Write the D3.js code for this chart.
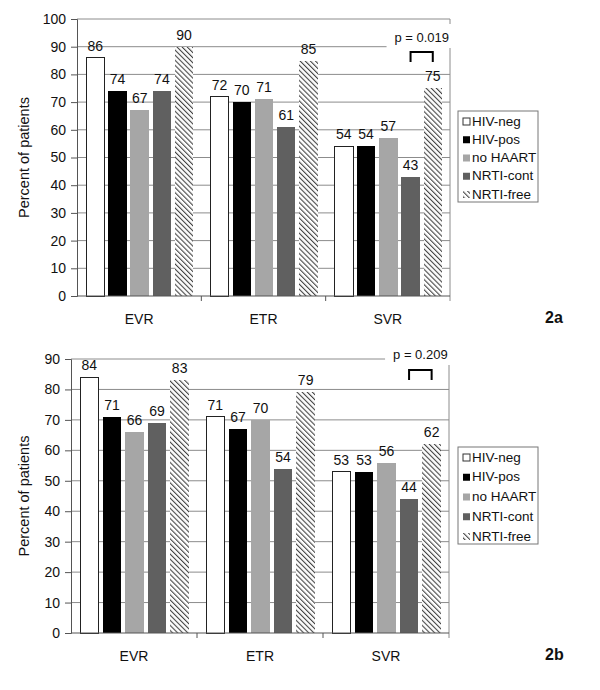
<!DOCTYPE html>
<html>
<head>
<meta charset="utf-8">
<script src="https://cdn.jsdelivr.net/npm/d3@7"></script>
<style>
html,body{margin:0;padding:0;background:#fff;}
svg{display:block;}
text{font-family:"Liberation Sans",Arial,sans-serif;fill:#111;}
</style>
</head>
<body>
<svg id="chart" width="600" height="690"></svg>
<script>
// ---- data ----
const categories = ["EVR", "ETR", "SVR"];
const seriesNames = ["HIV-neg", "HIV-pos", "no HAART", "NRTI-cont", "NRTI-free"];

// Panel 2a
const hivNegA   = [86, 72, 54];
const hivPosA   = [74, 70, 54];
const noHaartA  = [67, 71, 57];
const nrtiContA = [74, 61, 43];
const nrtiFreeA = [90, 85, 75];
const ticksA = [0, 10, 20, 30, 40, 50, 60, 70, 80, 90, 100];
const pTextA = "p = 0.019";

// Panel 2b
const hivNegB   = [84, 71, 53];
const hivPosB   = [71, 67, 53];
const noHaartB  = [66, 70, 56];
const nrtiContB = [69, 54, 44];
const nrtiFreeB = [83, 79, 62];
const ticksB = [0, 10, 20, 30, 40, 50, 60, 70, 80, 90];
const pTextB = "p = 0.209";

const yLabel = "Percent of patients";

// ---- drawing ----
const svg = d3.select("#chart");
const defs = svg.append("defs");
const pat = defs.append("pattern")
  .attr("id", "hatch").attr("patternUnits", "userSpaceOnUse")
  .attr("width", 3.6).attr("height", 3.6)
  .attr("patternTransform", "rotate(-45)");
pat.append("rect").attr("width", 3.6).attr("height", 3.6).attr("fill", "#fff");
pat.append("line").attr("x1", 0).attr("y1", 0).attr("x2", 0).attr("y2", 3.6)
  .attr("stroke", "#444").attr("stroke-width", 2.2);

const fills = ["#ffffff", "#000000", "#a6a6a6", "#606060", "url(#hatch)"];
const strokes = ["#222", "none", "none", "none", "none"];

function drawPanel(cfg) {
  const { left, right, top, bottom, data, ticks, maxV, pText, panelLabel, legendTop, legendH } = cfg;
  const w = right - left, h = bottom - top;
  const g = svg.append("g").attr("transform", `translate(${left},${top})`);

  const y = d3.scaleLinear().domain([0, maxV]).range([h, 0]);
  const x0 = d3.scaleBand().domain(categories).range([0, w]).padding(0);
  const x1 = d3.scaleBand().domain(seriesNames)
    .range([9, x0.bandwidth() - 8]).paddingInner(0.17).paddingOuter(0);

  // gridlines
  g.append("g").selectAll("line").data(ticks.filter(t => t > 0)).join("line")
    .attr("x1", 0).attr("x2", w)
    .attr("y1", d => y(d)).attr("y2", d => y(d))
    .attr("stroke", "#8c8c8c").attr("stroke-width", 1);

  // right border
  g.append("line").attr("x1", w).attr("x2", w).attr("y1", 0).attr("y2", h + 5)
    .attr("stroke", "#8c8c8c");

  // bars
  const groups = g.append("g").selectAll("g").data(categories).join("g")
    .attr("transform", d => `translate(${x0(d)},0)`);
  groups.each(function(cat, ci) {
    const gg = d3.select(this);
    seriesNames.forEach((s, si) => {
      const v = data[si][ci];
      gg.append("rect")
        .attr("x", x1(s)).attr("y", y(v))
        .attr("width", x1.bandwidth()).attr("height", h - y(v))
        .attr("fill", fills[si])
        .attr("stroke", strokes[si]).attr("stroke-width", 1)
        .attr("shape-rendering", "crispEdges");
      gg.append("text")
        .attr("x", x1(s) + x1.bandwidth() / 2).attr("y", y(v) - 7)
        .attr("text-anchor", "middle").attr("font-size", 14)
        .text(v);
    });
  });

  // y axis
  const yAxis = g.append("g").call(d3.axisLeft(y).tickValues(ticks).tickSize(6).tickPadding(5));
  yAxis.select(".domain").attr("stroke", "#555");
  yAxis.selectAll(".tick line").attr("stroke", "#555");
  yAxis.selectAll(".tick text").attr("font-size", 14).attr("font-family", "Liberation Sans, Arial, sans-serif").attr("fill", "#111");

  // x axis
  g.append("line").attr("x1", 0).attr("x2", w).attr("y1", h).attr("y2", h).attr("stroke", "#555");
  g.append("g").selectAll("line").data(categories.slice(1)).join("line")
    .attr("x1", d => x0(d)).attr("x2", d => x0(d)).attr("y1", h).attr("y2", h + 5)
    .attr("stroke", "#555");
  g.append("g").selectAll("text").data(categories).join("text")
    .attr("x", d => x0(d) + x0.bandwidth() / 2).attr("y", h + 28)
    .attr("text-anchor", "middle").attr("font-size", 14).text(d => d);

  // y label
  g.append("text")
    .attr("transform", `translate(${25 - left},${h / 2}) rotate(-90)`)
    .attr("text-anchor", "middle").attr("dominant-baseline", "middle")
    .attr("font-size", 14.5).text(yLabel);

  // p-value annotation
  const cx1 = x0("SVR") + x1("NRTI-cont") + x1.bandwidth() / 2;
  const cx2 = x0("SVR") + x1("NRTI-free") + x1.bandwidth() / 2;
  const pY = cfg.pY - top;
  g.append("rect").attr("x", cx1 - 24).attr("y", pY - 14).attr("width", 70).attr("height", 24).attr("fill", "#fff");
  g.append("text").attr("x", (cx1 + cx2) / 2).attr("y", pY + 4)
    .attr("text-anchor", "middle").attr("font-size", 13)
    .attr("font-family", "Lato, 'Open Sans', sans-serif").text(pText);
  const bY = cfg.bracketY - top;
  g.append("path").attr("d", `M${cx1},${bY + 10}V${bY}H${cx2}V${bY + 10}`)
    .attr("fill", "none").attr("stroke", "#000").attr("stroke-width", 2);

  // panel label
  svg.append("text").attr("x", 545).attr("y", bottom + 27)
    .attr("font-size", 16).attr("font-weight", "bold")
    .attr("font-family", "Lato, 'Open Sans', sans-serif").text(panelLabel);

  // legend
  const lg = svg.append("g").attr("transform", `translate(458,${legendTop})`);
  lg.append("rect").attr("width", 80).attr("height", legendH)
    .attr("fill", "#fff").attr("stroke", "#777");
  const step = (legendH - 18) / 4;
  seriesNames.forEach((s, i) => {
    const cy = 11 + i * step;
    lg.append("rect").attr("x", 5).attr("y", cy - 4).attr("width", 7).attr("height", 7)
      .attr("fill", fills[i]).attr("stroke", i === 0 ? "#333" : "none");
    lg.append("text").attr("x", 14).attr("y", cy)
      .attr("dominant-baseline", "middle").attr("font-size", 13.5).text(s);
  });
}

drawPanel({
  left: 77, right: 450, top: 19, bottom: 296,
  data: [hivNegA, hivPosA, noHaartA, nrtiContA, nrtiFreeA],
  ticks: ticksA, maxV: 100, pText: pTextA, panelLabel: "2a",
  pY: 38, bracketY: 52, legendTop: 111, legendH: 91
});
drawPanel({
  left: 71, right: 449, top: 359, bottom: 633,
  data: [hivNegB, hivPosB, noHaartB, nrtiContB, nrtiFreeB],
  ticks: ticksB, maxV: 90, pText: pTextB, panelLabel: "2b",
  pY: 355, bracketY: 370, legendTop: 447, legendH: 97
});
</script>
</body>
</html>
